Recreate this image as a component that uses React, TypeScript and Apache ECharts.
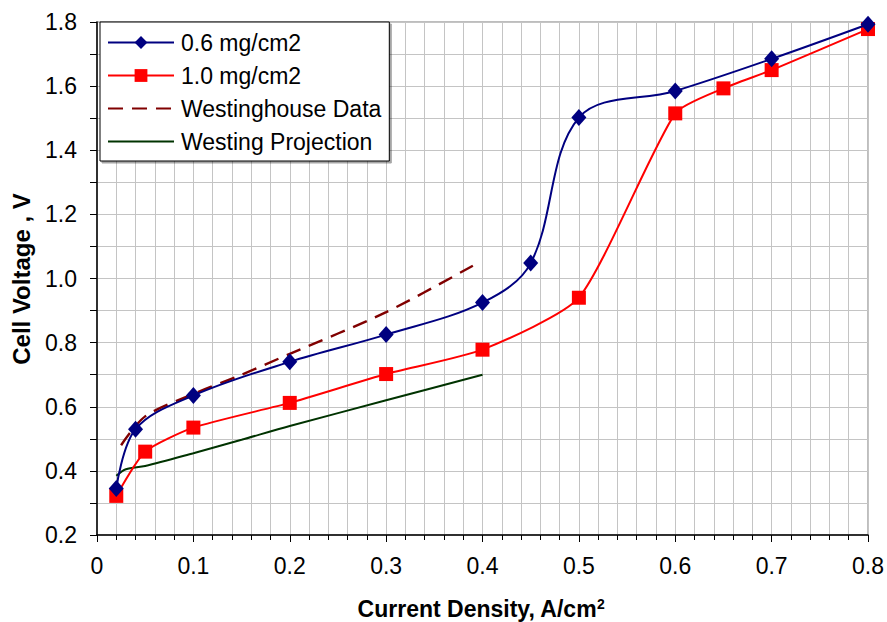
import React, { useEffect, useRef } from "react";
import * as echarts from "echarts";

const seriesNames = ["0.6 mg/cm2", "1.0 mg/cm2", "Westinghouse Data", "Westing Projection"];

const lowX = [0.02, 0.04, 0.1, 0.2, 0.3, 0.4, 0.45, 0.5, 0.6, 0.7, 0.8];
const lowY = [0.345, 0.53, 0.635, 0.74, 0.825, 0.925, 1.048, 1.502, 1.585, 1.685, 1.793];

const highX = [0.02, 0.05, 0.1, 0.2, 0.3, 0.4, 0.5, 0.6, 0.65, 0.7, 0.8];
const highY = [0.322, 0.46, 0.535, 0.612, 0.702, 0.778, 0.94, 1.515, 1.593, 1.65, 1.778];

const westX = [0.025, 0.05, 0.1, 0.15, 0.2, 0.3, 0.39];
const westY = [0.48, 0.57, 0.64, 0.7, 0.765, 0.895, 1.04];

const projX = [0.02, 0.03, 0.05, 0.1, 0.15, 0.2, 0.3, 0.4];
const projY = [0.385, 0.405, 0.415, 0.455, 0.497, 0.54, 0.62, 0.70];

const xTitle = "Current Density, A/cm";
const yTitle = "Cell Voltage , V";

const zip = (xs: number[], ys: number[]) => xs.map((x, i) => [x, ys[i]]);

export default function App() {
  const ref = useRef<HTMLDivElement>(null);
  useEffect(() => {
    if (!ref.current) return;
    const chart = echarts.init(ref.current, null, { renderer: "svg" });
    const font = "'Liberation Sans', Arial, sans-serif";
    const gridColor = "#c4c4c4";
    chart.setOption({
      animation: false,
      textStyle: { fontFamily: font },
      grid: {
        left: 97,
        right: 18,
        top: 22,
        bottom: 87,
        show: true,
        borderColor: "#a8a8a8",
        borderWidth: 1.5,
        backgroundColor: "#fff",
      },
      legend: {
        orient: "vertical",
        left: 100,
        top: 22,
        data: [
          seriesNames[0],
          seriesNames[1],
          { name: seriesNames[2], itemStyle: { opacity: 0 } },
          { name: seriesNames[3], itemStyle: { opacity: 0 } },
        ],
        backgroundColor: "#fff",
        borderColor: "#000",
        borderWidth: 1,
        borderRadius: 0,
        padding: [9, 8, 8, 7],
        itemGap: 10,
        itemWidth: 66,
        itemHeight: 16,
        shadowColor: "rgba(0,0,0,0.35)",
        shadowOffsetX: 2,
        shadowOffsetY: 2,
        shadowBlur: 0,
        textStyle: { fontSize: 23, color: "#000", fontFamily: font, padding: [0, 0, 0, 2] },
      },
      xAxis: {
        type: "value",
        min: 0,
        max: 0.8,
        interval: 0.1,
        axisLine: { show: true, onZero: false, lineStyle: { color: "#000", width: 1.5 } },
        axisTick: { show: true, inside: false, length: 7, lineStyle: { color: "#000" } },
        minorTick: { show: true, splitNumber: 5, length: 5, lineStyle: { color: "#000" } },
        splitLine: { show: true, lineStyle: { color: gridColor, width: 1 } },
        minorSplitLine: { show: true, lineStyle: { color: gridColor, width: 1 } },
        axisLabel: { fontSize: 23, color: "#000", margin: 19, fontFamily: font },
      },
      yAxis: {
        type: "value",
        min: 0.2,
        max: 1.8,
        interval: 0.2,
        axisLine: { show: true, onZero: false, lineStyle: { color: "#000", width: 1.5 } },
        axisTick: { show: true, inside: false, length: 7, lineStyle: { color: "#000" } },
        minorTick: { show: true, splitNumber: 2, length: 7, lineStyle: { color: "#000" } },
        splitLine: { show: true, lineStyle: { color: gridColor, width: 1 } },
        minorSplitLine: { show: true, lineStyle: { color: gridColor, width: 1 } },
        axisLabel: {
          fontSize: 23,
          color: "#000",
          margin: 20,
          fontFamily: font,
          formatter: (v: number) => v.toFixed(1),
        },
      },
      graphic: [
        {
          type: "text",
          x: 21,
          y: 279,
          rotation: Math.PI / 2,
          style: {
            text: yTitle,
            fontSize: 24,
            fontWeight: "bold",
            fontFamily: font,
            fill: "#000",
            align: "center",
            verticalAlign: "middle",
          },
        },
        {
          type: "text",
          x: 481,
          y: 609,
          style: {
            text: xTitle + "{sup|2}",
            fontSize: 23,
            fontWeight: "bold",
            fontFamily: font,
            fill: "#000",
            align: "center",
            verticalAlign: "middle",
            rich: {
              sup: {
                fontSize: 14,
                fontWeight: "bold",
                fontFamily: font,
                verticalAlign: "top",
                padding: [0, 0, 10, 0],
              },
            },
          },
        },
      ],
      series: [
        {
          name: seriesNames[2],
          type: "line",
          data: zip(westX, westY),
          smooth: 0.3,
          symbol: "none",
          lineStyle: { color: "#800000", width: 2.4, type: [15, 9] },
          itemStyle: { color: "#800000" },
          z: 2,
        },
        {
          name: seriesNames[3],
          type: "line",
          data: zip(projX, projY),
          smooth: 0.3,
          symbol: "none",
          lineStyle: { color: "#003300", width: 2 },
          itemStyle: { color: "#003300" },
          z: 2,
        },
        {
          name: seriesNames[1],
          type: "line",
          data: zip(highX, highY),
          smooth: 0.2,
          symbol: "rect",
          symbolSize: 14,
          lineStyle: { color: "#ff0000", width: 2 },
          itemStyle: { color: "#ff0000" },
          z: 3,
        },
        {
          name: seriesNames[0],
          type: "line",
          data: zip(lowX, lowY),
          smooth: 0.35,
          symbol: "diamond",
          symbolSize: [15, 17],
          lineStyle: { color: "#000080", width: 2 },
          itemStyle: { color: "#000080" },
          z: 4,
        },
      ],
    });
    return () => chart.dispose();
  }, []);
  return <div ref={ref} style={{ width: 887, height: 622, position: "absolute", left: 0, top: 0 }} />;
}
